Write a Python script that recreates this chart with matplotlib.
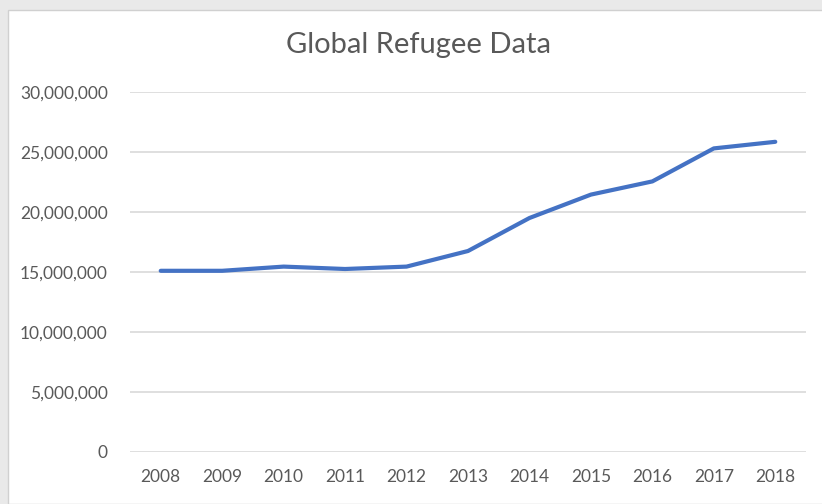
import matplotlib.pyplot as plt
from matplotlib.patches import Rectangle
from matplotlib.ticker import FuncFormatter

# data
anos = ['2008', '2009', '2010', '2011', '2012', '2013', '2014', '2015', '2016', '2017', '2018']
refugiados = [15100000, 15100000, 15450000, 15250000, 15450000, 16750000,
              19500000, 21450000, 22550000, 25300000, 25850000]

plt.rcParams['font.family'] = ['Lato', 'DejaVu Sans']

fig = plt.figure(figsize=(8.22, 5.04), dpi=100)
fig.patch.set_facecolor('#e9e9e9')

# white chart area (screenshot frame)
fig.patches.append(Rectangle((8 / 822, 0), 1, (504 - 10) / 504, transform=fig.transFigure,
                             facecolor='white', edgecolor='#d0d0d0', linewidth=1, zorder=-5))

ax = fig.add_axes([130 / 822, 1 - 452 / 504, 676 / 822, 360 / 504])
ax.set_facecolor('none')
ax.set_zorder(2)

x = list(range(len(anos)))
ax.plot(x, refugiados, color='#4472C4', linewidth=3, solid_capstyle='round',
        solid_joinstyle='round', zorder=3)

ax.set_xlim(-0.5, len(anos) - 0.5)
ax.set_ylim(0, 30000000)
ax.set_yticks(range(0, 30000001, 5000000))
ax.yaxis.set_major_formatter(FuncFormatter(lambda v, p: f'{int(v):,}'))
ax.set_xticks(x)
ax.set_xticklabels(anos)

ax.grid(axis='y', color='#d9d9d9', linewidth=1.2)
ax.set_axisbelow(True)
for s in ax.spines.values():
    s.set_visible(False)
ax.tick_params(axis='both', length=0, labelsize=12.5, colors='#595959')
ax.tick_params(axis='y', pad=16)
ax.tick_params(axis='x', pad=12)

fig.text(418 / 822, 1 - 45 / 504, 'Global Refugee Data', ha='center', va='center',
         fontsize=21, color='#595959', zorder=3)

plt.savefig('out.png', dpi=100, facecolor=fig.get_facecolor())
plt.close()
